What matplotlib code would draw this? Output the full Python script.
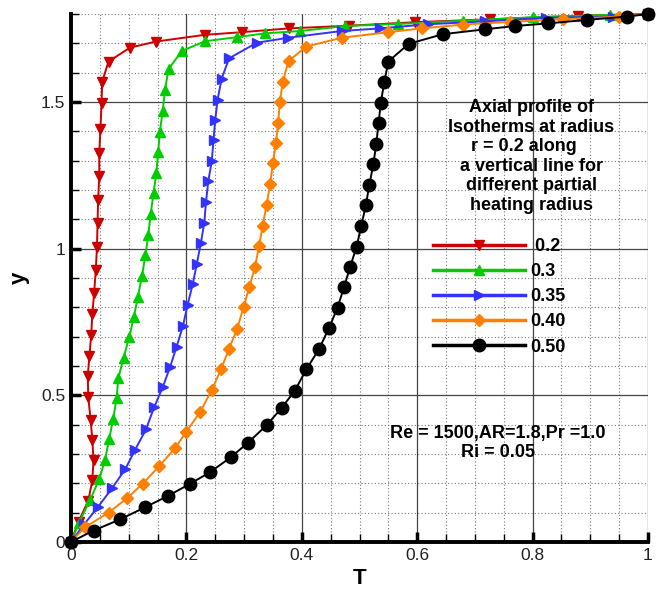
import numpy as np
import matplotlib.pyplot as plt
from matplotlib.ticker import MultipleLocator

plt.rcParams['font.family'] = ['Liberation Sans', 'DejaVu Sans']

# temperature profiles T(y) along r = 0.2 for each partial heating radius
T_02 = [0.0, 0.013, 0.030, 0.037, 0.039, 0.037, 0.034, 0.030, 0.029, 0.032, 0.035, 0.037,
        0.040, 0.043, 0.045, 0.046, 0.047, 0.049, 0.049, 0.051, 0.053, 0.054, 0.065,
        0.102, 0.147, 0.232, 0.296, 0.378, 0.481, 0.596, 0.726, 0.879, 1.0]
y_02 = [0.0, 0.069, 0.141, 0.211, 0.280, 0.348, 0.416, 0.493, 0.566, 0.634, 0.706, 0.776,
        0.848, 0.927, 1.007, 1.087, 1.166, 1.248, 1.327, 1.407, 1.498, 1.569, 1.638,
        1.685, 1.706, 1.729, 1.738, 1.751, 1.760, 1.772, 1.782, 1.794, 1.8]

T_03 = [0.0, 0.014, 0.033, 0.049, 0.059, 0.066, 0.073, 0.079, 0.082, 0.091, 0.101, 0.109,
        0.116, 0.123, 0.129, 0.134, 0.138, 0.143, 0.148, 0.151, 0.154, 0.159, 0.163,
        0.169, 0.192, 0.232, 0.287, 0.336, 0.397, 0.475, 0.567, 0.680, 0.801, 0.934, 1.0]
y_03 = [0.0, 0.066, 0.143, 0.214, 0.280, 0.350, 0.418, 0.490, 0.558, 0.628, 0.698, 0.768,
        0.836, 0.907, 0.977, 1.047, 1.117, 1.189, 1.259, 1.329, 1.399, 1.470, 1.541,
        1.612, 1.674, 1.707, 1.721, 1.734, 1.742, 1.759, 1.766, 1.777, 1.789, 1.797, 1.8]

T_035 = [0.0, 0.023, 0.047, 0.071, 0.094, 0.111, 0.130, 0.144, 0.159, 0.172, 0.183, 0.194,
         0.202, 0.211, 0.218, 0.225, 0.231, 0.234, 0.238, 0.244, 0.247, 0.250, 0.254,
         0.261, 0.274, 0.322, 0.376, 0.469, 0.536, 0.619, 0.718, 0.824, 0.940, 1.0]
y_035 = [0.0, 0.061, 0.120, 0.183, 0.248, 0.314, 0.384, 0.459, 0.528, 0.598, 0.666, 0.736,
         0.808, 0.879, 0.948, 1.018, 1.089, 1.160, 1.231, 1.299, 1.371, 1.439, 1.507,
         1.579, 1.649, 1.702, 1.719, 1.742, 1.751, 1.765, 1.775, 1.787, 1.791, 1.8]

T_040 = [0.0, 0.024, 0.065, 0.097, 0.124, 0.153, 0.180, 0.200, 0.224, 0.244, 0.260, 0.274,
         0.288, 0.299, 0.309, 0.319, 0.326, 0.332, 0.339, 0.345, 0.350, 0.355, 0.359,
         0.362, 0.367, 0.377, 0.408, 0.469, 0.550, 0.608, 0.679, 0.760, 0.853, 0.949, 1.0]
y_040 = [0.0, 0.050, 0.100, 0.149, 0.198, 0.259, 0.319, 0.376, 0.444, 0.518, 0.589, 0.659,
         0.727, 0.800, 0.868, 0.939, 1.009, 1.077, 1.149, 1.220, 1.291, 1.359, 1.428,
         1.501, 1.569, 1.640, 1.689, 1.719, 1.738, 1.751, 1.764, 1.773, 1.782, 1.791, 1.8]

T_050 = [0.0, 0.039, 0.085, 0.128, 0.168, 0.206, 0.241, 0.277, 0.307, 0.339, 0.365, 0.388,
         0.408, 0.430, 0.447, 0.462, 0.473, 0.484, 0.495, 0.503, 0.511, 0.517, 0.524,
         0.529, 0.533, 0.537, 0.543, 0.550, 0.585, 0.644, 0.718, 0.769, 0.827, 0.894,
         0.963, 1.0]
y_050 = [0.0, 0.039, 0.077, 0.118, 0.157, 0.198, 0.238, 0.289, 0.339, 0.398, 0.457, 0.516,
         0.589, 0.658, 0.729, 0.799, 0.868, 0.939, 1.007, 1.077, 1.148, 1.217, 1.288,
         1.357, 1.428, 1.498, 1.569, 1.638, 1.698, 1.731, 1.748, 1.759, 1.768, 1.780,
         1.791, 1.8]

labels = [' 0.2', '0.3', '0.35', '0.40', '0.50']
colors = ['#cc0000', '#00cc00', '#3333ff', '#ff8000', 'black']
markers = ['v', '^', '>', 'D', 'o']
msizes = [7, 7, 7, 6, 9]

fig = plt.figure(figsize=(6.62, 5.89), dpi=100)
ax = fig.add_axes([71 / 662, 47 / 589, 577 / 662, 528 / 589])

series = [(T_02, y_02), (T_03, y_03), (T_035, y_035), (T_040, y_040), (T_050, y_050)]
for (T, y), lab, c, m, ms in zip(series, labels, colors, markers, msizes):
    ax.plot(T, y, color=c, marker=m, markersize=ms, lw=1.4, label=lab,
            clip_on=False, zorder=3)

ax.set_xlim(0, 1)
ax.set_ylim(0, 1.8)
ax.xaxis.set_minor_locator(MultipleLocator(0.05))
ax.yaxis.set_minor_locator(MultipleLocator(0.1))
ax.set_xticks([0, 0.2, 0.4, 0.6, 0.8, 1])
ax.set_xticklabels(['0', '0.2', '0.4', '0.6', '0.8', '1'])
ax.set_yticks([0, 0.5, 1, 1.5])
ax.set_yticklabels(['0', '0.5', '1', '1.5'])

ax.grid(which='major', color='#444444', lw=0.9, ls='-')
ax.grid(which='minor', color='#777777', lw=0.8, ls=(0, (1, 2)))
ax.set_axisbelow(True)

for s in ['top', 'right']:
    ax.spines[s].set_visible(False)
for s in ['left', 'bottom']:
    ax.spines[s].set_linewidth(2.8)
ax.tick_params(which='major', direction='in', length=7, width=2.5, labelsize=12.5,
               labelcolor='#222222', pad=4)
ax.tick_params(which='minor', direction='in', length=6, width=1)

ax.set_xlabel('T', fontsize=16, fontweight='bold', labelpad=4)
ax.set_ylabel('y', fontsize=16, fontweight='bold', labelpad=8)

ax.text(0.798, 1.51, 'Axial profile of\nIsotherms at radius\nr = 0.2 along   \n'
        'a vertical line for\ndifferent partial\nheating radius',
        ha='center', va='top', fontsize=13, fontweight='bold', linespacing=1.2)
ax.text(0.74, 0.40, 'Re = 1500,AR=1.8,Pr =1.0\nRi = 0.05', ha='center', va='top',
        fontsize=13, fontweight='bold', linespacing=1.15)

leg = ax.legend(loc='upper left', bbox_to_anchor=(433 / 662, 1 - 238 / 589),
                bbox_transform=fig.transFigure, frameon=False, numpoints=1,
                handlelength=5.1, handletextpad=0.3, labelspacing=0.45,
                borderpad=0, borderaxespad=0,
                prop={'weight': 'bold', 'size': 13})
for line in leg.get_lines():
    line.set_linewidth(2.5)

fig.savefig('out.png', dpi=100)
